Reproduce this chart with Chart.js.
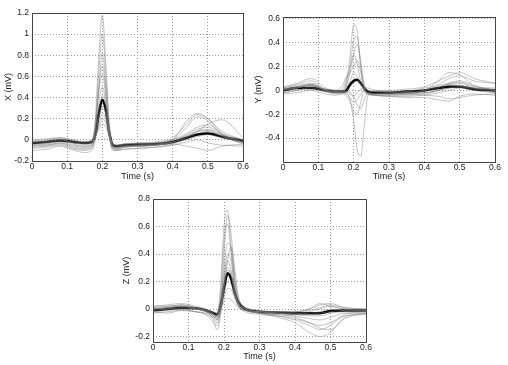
<!DOCTYPE html>
<html>
<head>
<meta charset="utf-8">
<script src="https://cdn.jsdelivr.net/npm/chart.js@4"></script>
<style>
  body { margin: 0; background: #fff; }
  #wrap { position: relative; width: 508px; height: 365px; }
  canvas { position: absolute; }
</style>
</head>
<body>
<div id="wrap">
  <canvas id="chartX" width="250" height="185" style="left:0;top:0"></canvas>
  <canvas id="chartY" width="258" height="185" style="left:250px;top:0"></canvas>
  <canvas id="chartZ" width="258" height="180" style="left:118px;top:185px"></canvas>
</div>
<script>
// shared time samples (s)
var time = [0, 0.04, 0.08, 0.12, 0.15, 0.17, 0.18, 0.19, 0.2, 0.21, 0.22, 0.23, 0.24, 0.26, 0.3, 0.35, 0.4, 0.44, 0.47, 0.5, 0.54, 0.6];
var timeTicks = [0, 0.1, 0.2, 0.3, 0.4, 0.5, 0.6];
var ticksX = [-0.2, 0, 0.2, 0.4, 0.6, 0.8, 1, 1.2];
var ticksY = [-0.4, -0.2, 0, 0.2, 0.4, 0.6];
var ticksZ = [-0.2, 0, 0.2, 0.4, 0.6, 0.8];

// X lead (mV)
var meanX = [-0.03,-0.02,-0.005,-0.02,-0.03,-0.02,0.05,0.25,0.38,0.28,0.06,-0.05,-0.06,-0.05,-0.045,-0.04,-0.02,0.02,0.05,0.06,0.03,-0.01];
var beatsX = [
  [-0.05,-0.04,-0.02,-0.05,-0.06,-0.03,0.2,0.8,1.18,0.7,0.15,-0.08,-0.09,-0.07,-0.06,-0.05,-0.02,0.05,0.1,0.12,0.05,-0.02],
  [-0.02,-0.01,0.01,-0.03,-0.04,-0.02,0.15,0.65,1.0,0.6,0.1,-0.06,-0.07,-0.06,-0.05,-0.04,0.0,0.12,0.22,0.18,0.05,-0.01],
  [-0.08,-0.07,-0.05,-0.09,-0.1,-0.08,0.1,0.5,0.82,0.5,0.05,-0.1,-0.1,-0.09,-0.08,-0.07,-0.04,0.03,0.08,0.1,0.04,-0.04],
  [0.0,0.01,0.02,0.0,-0.02,0.0,0.12,0.45,0.62,0.4,0.06,-0.04,-0.05,-0.04,-0.03,-0.02,0.02,0.15,0.24,0.2,0.08,0.0],
  [-0.04,-0.03,-0.01,-0.04,-0.06,-0.04,0.08,0.35,0.5,0.35,0.08,-0.06,-0.07,-0.06,-0.05,-0.05,-0.03,0.0,0.03,0.05,0.02,-0.03],
  [-0.1,-0.09,-0.06,-0.1,-0.12,-0.1,0.0,0.28,0.42,0.3,0.02,-0.09,-0.1,-0.09,-0.08,-0.07,-0.05,-0.02,0.0,-0.03,-0.05,-0.06],
  [-0.02,-0.02,0.0,-0.02,-0.03,-0.02,0.06,0.22,0.32,0.25,0.05,-0.05,-0.06,-0.05,-0.05,-0.04,-0.02,0.03,0.08,0.15,0.19,0.02],
  [-0.06,-0.05,-0.03,-0.07,-0.08,-0.06,0.02,0.15,0.25,0.2,0.04,-0.07,-0.08,-0.07,-0.06,-0.05,-0.04,-0.06,-0.08,-0.1,-0.06,-0.04],
  [-0.03,-0.02,0.0,-0.03,-0.04,-0.03,0.03,0.12,0.2,0.16,0.05,-0.03,-0.05,-0.04,-0.04,-0.03,0.0,0.04,0.08,0.09,0.04,-0.02],
  [-0.01,0.0,0.02,-0.01,-0.02,-0.01,0.03,0.1,0.15,0.12,0.03,-0.04,-0.05,-0.04,-0.03,-0.03,0.0,0.06,0.12,0.14,0.06,0.0],
  [-0.05,-0.05,-0.03,-0.06,-0.07,-0.05,0.12,0.5,0.7,0.45,0.08,-0.07,-0.08,-0.06,-0.06,-0.05,-0.02,0.02,0.06,0.08,0.03,-0.03],
  [-0.07,-0.06,-0.04,-0.08,-0.09,-0.07,0.03,0.2,0.3,0.24,0.04,-0.08,-0.09,-0.07,-0.06,-0.05,0.0,0.18,0.25,0.2,0.06,-0.02]
];

// Y lead (mV)
var meanY = [0.0,0.02,0.02,0.0,-0.01,-0.01,0.0,0.05,0.08,0.09,0.06,0.02,-0.01,-0.02,-0.02,-0.01,0.0,0.02,0.03,0.03,0.01,0.0];
var beatsY = [
  [0.02,0.05,0.08,0.0,-0.02,0.0,0.08,0.3,0.55,0.5,0.2,0.0,-0.03,-0.04,-0.04,-0.03,0.0,0.05,0.1,0.12,0.04,0.0],
  [0.0,0.03,0.05,0.0,-0.02,-0.02,-0.05,-0.1,-0.25,-0.5,-0.55,-0.3,-0.05,0.0,-0.01,-0.02,-0.02,0.0,0.02,0.03,0.02,0.0],
  [-0.02,0.0,0.03,-0.01,-0.03,-0.02,0.05,0.15,0.3,0.38,0.25,0.05,-0.03,-0.04,-0.04,-0.04,-0.03,0.0,0.05,0.06,0.02,-0.02],
  [0.01,0.03,0.04,0.0,-0.01,0.0,-0.02,-0.08,-0.18,-0.2,-0.1,0.0,0.02,0.0,-0.01,-0.01,0.0,0.03,0.05,0.04,0.02,0.01],
  [0.03,0.06,0.1,0.02,0.0,0.05,0.12,0.15,0.2,0.25,0.15,0.02,-0.02,-0.03,-0.03,-0.02,0.0,0.08,0.15,0.13,0.08,0.06],
  [0.0,0.02,0.04,0.0,-0.02,-0.01,0.02,0.08,0.15,0.12,0.05,0.0,-0.02,-0.03,-0.03,-0.03,-0.02,0.0,0.02,0.03,0.01,0.0],
  [-0.03,-0.02,0.0,-0.03,-0.04,-0.03,-0.03,-0.06,-0.1,-0.08,-0.03,0.0,-0.02,-0.04,-0.05,-0.06,-0.06,-0.08,-0.09,-0.05,-0.03,-0.04],
  [0.01,0.02,0.04,0.0,-0.01,0.0,0.04,0.2,0.42,0.45,0.2,0.02,-0.03,-0.03,-0.03,-0.03,-0.01,0.02,0.06,0.08,0.04,0.0],
  [-0.02,0.0,0.02,-0.01,-0.02,-0.02,0.0,0.03,0.06,0.08,0.05,0.0,-0.03,-0.04,-0.05,-0.05,-0.04,-0.02,0.0,0.02,0.0,-0.02],
  [0.02,0.04,0.06,0.01,0.0,0.0,-0.01,-0.03,-0.05,-0.02,0.01,0.02,0.0,-0.01,0.0,0.01,0.03,0.08,0.12,0.15,0.1,0.06],
  [0.0,0.02,0.05,0.0,-0.01,0.02,0.1,0.2,0.3,0.22,0.08,0.0,-0.02,-0.03,-0.02,-0.01,0.02,0.04,0.06,0.07,0.03,0.02],
  [0.01,0.03,0.05,0.01,0.0,-0.01,-0.01,-0.02,-0.05,-0.12,-0.15,-0.08,-0.02,-0.01,-0.02,-0.03,-0.04,-0.05,-0.07,-0.06,-0.04,-0.03]
];

// Z lead (mV)
var meanZ = [-0.01,0.0,0.01,0.005,-0.01,-0.03,-0.04,0.02,0.15,0.26,0.22,0.12,0.05,0.0,-0.02,-0.025,-0.03,-0.03,-0.03,-0.015,-0.01,-0.01];
var beatsZ = [
  [0.0,0.01,0.02,0.0,-0.02,-0.06,-0.05,0.15,0.6,0.72,0.45,0.2,0.05,-0.01,-0.02,-0.03,-0.04,-0.05,-0.05,-0.03,-0.02,-0.02],
  [-0.02,-0.01,0.0,-0.02,-0.04,-0.1,-0.12,0.0,0.4,0.68,0.55,0.25,0.08,0.0,-0.03,-0.06,-0.1,-0.17,-0.2,-0.17,-0.06,-0.03],
  [0.01,0.02,0.03,0.01,-0.01,-0.05,-0.08,0.02,0.3,0.48,0.45,0.22,0.06,0.0,-0.02,-0.03,-0.04,-0.03,-0.02,0.0,-0.01,-0.01],
  [-0.01,0.0,0.02,0.0,-0.02,-0.08,-0.15,-0.05,0.2,0.4,0.35,0.15,0.05,0.0,-0.03,-0.05,-0.08,-0.12,-0.15,-0.12,-0.04,-0.02],
  [0.02,0.03,0.04,0.02,0.0,-0.03,-0.05,0.05,0.25,0.35,0.28,0.12,0.04,0.01,-0.01,-0.02,-0.02,0.0,0.03,0.04,0.01,0.0],
  [-0.03,-0.02,-0.01,-0.02,-0.04,-0.07,-0.1,-0.02,0.15,0.28,0.25,0.12,0.03,-0.02,-0.04,-0.05,-0.07,-0.1,-0.12,-0.1,-0.05,-0.04],
  [0.0,0.01,0.02,0.01,-0.01,-0.03,-0.04,0.02,0.12,0.2,0.18,0.1,0.04,0.0,-0.02,-0.02,-0.02,0.0,0.04,0.02,0.0,-0.01],
  [-0.02,-0.03,-0.01,-0.02,-0.03,-0.05,-0.07,-0.02,0.08,0.15,0.14,0.08,0.02,-0.01,-0.03,-0.04,-0.05,-0.07,-0.08,-0.06,-0.03,-0.03],
  [0.01,0.0,0.01,0.0,-0.01,-0.02,-0.03,0.0,0.05,0.08,0.07,0.04,0.01,-0.01,-0.02,-0.02,-0.02,-0.01,0.01,0.03,0.01,0.0],
  [0.02,0.02,0.03,0.01,-0.01,-0.04,-0.06,0.1,0.5,0.62,0.4,0.15,0.03,-0.01,-0.02,-0.03,-0.03,-0.04,-0.03,-0.02,-0.01,-0.01],
  [-0.01,0.0,0.01,0.0,-0.02,-0.05,-0.08,0.0,0.2,0.3,0.25,0.1,0.03,-0.01,-0.03,-0.04,-0.06,-0.1,-0.14,-0.15,-0.07,-0.03],
  [0.0,0.01,0.02,0.0,-0.02,-0.04,-0.06,-0.02,0.15,0.35,0.45,0.3,0.1,0.01,-0.02,-0.03,-0.03,-0.02,0.0,0.02,0.0,-0.01]
];

Chart.defaults.font.family = "'Liberation Sans', Arial, sans-serif";
Chart.defaults.font.size = 8.5;
Chart.defaults.color = "#222";

// draws the closed frame round the plot area
const boxPlugin = {
  id: "box",
  afterDraw(chart) {
    const a = chart.chartArea;
    const ctx = chart.ctx;
    ctx.save();
    ctx.strokeStyle = "#444";
    ctx.lineWidth = 1;
    ctx.strokeRect(Math.round(a.left) + 0.5, Math.round(a.top) + 0.5, Math.round(a.right - a.left), Math.round(a.bottom - a.top));
    ctx.restore();
  },
};

function pts(vals) {
  return vals.map((v, i) => ({ x: time[i], y: v }));
}

function makeChart(id, label, beats, mean, yMin, yMax, yTicks, layout) {
  const datasets = beats.map((b) => ({
    data: pts(b),
    borderColor: "rgba(120,120,120,0.55)",
    borderWidth: 0.8,
  }));
  datasets.push({
    data: pts(mean),
    borderColor: "#000",
    borderWidth: 2.5,
  });

  const config = {
    type: "line",
    data: { datasets: datasets },
    options: {
      responsive: false,
      animation: false,
      devicePixelRatio: 1,
      layout: { padding: { top: layout.top, right: layout.right, left: 0, bottom: 0 } },
      elements: {
        point: { radius: 0 },
        line: { tension: 0.4, cubicInterpolationMode: "monotone" },
      },
      plugins: { legend: { display: false }, tooltip: { enabled: false } },
      scales: {
        x: {
          type: "linear",
          min: 0,
          max: 0.6,
          afterBuildTicks: (s) => { s.ticks = timeTicks.map((v) => ({ value: v })); },
          afterFit: (s) => { s.height = layout.xh; },
          ticks: { padding: 1, maxRotation: 0, callback: (v) => String(Math.round(v * 10) / 10) },
          grid: { color: "#999", drawTicks: false },
          border: { display: false, dash: [1, 2] },
          title: { display: true, text: "Time (s)", font: { size: 9 }, padding: { top: 0, bottom: 3 } },
        },
        y: {
          type: "linear",
          min: yMin,
          max: yMax,
          afterBuildTicks: (s) => { s.ticks = yTicks.map((v) => ({ value: v })); },
          afterFit: (s) => { s.width = layout.yw; },
          ticks: { padding: 3, callback: (v) => String(Math.round(v * 10) / 10) },
          grid: { color: "#999", drawTicks: false },
          border: { display: false, dash: [1, 2] },
          title: { display: true, text: label, font: { size: 9 }, padding: { top: 3, bottom: 0 } },
        },
      },
    },
    plugins: [boxPlugin],
  };
  return new Chart(document.getElementById(id), config);
}

makeChart("chartX", "X (mV)", beatsX, meanX, -0.2, 1.2, ticksX, { top: 13, right: 4, xh: 24, yw: 32 });
makeChart("chartY", "Y (mV)", beatsY, meanY, -0.6, 0.615, ticksY, { top: 17, right: 13, xh: 23, yw: 33 });
makeChart("chartZ", "Z (mV)", beatsZ, meanZ, -0.24, 0.8, ticksZ, { top: 14, right: 10, xh: 23, yw: 35 });
</script>
</body>
</html>
